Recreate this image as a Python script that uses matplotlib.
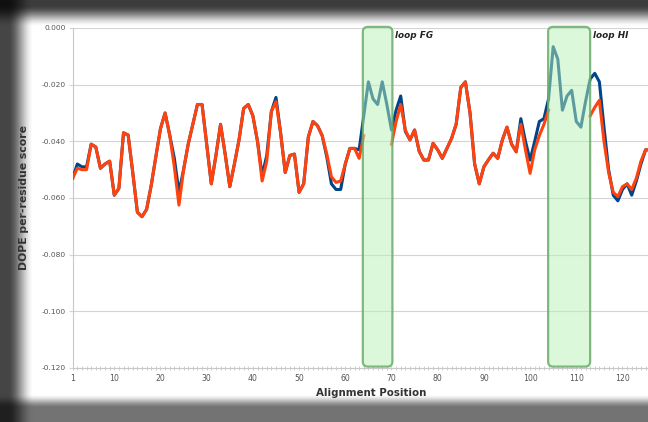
import numpy as np
import matplotlib
matplotlib.use("Agg")
import matplotlib.pyplot as plt
from matplotlib.patches import FancyBboxPatch
from matplotlib.ticker import MultipleLocator, FixedLocator

# alignment positions 1..126 and per-residue DOPE scores for both models
positions = np.arange(1, 127)

nan = np.nan
model_a = [  # drawn in orange, gaps at the two loops
    -0.053, -0.0495, -0.050, -0.050, -0.041, -0.042, -0.0495, -0.048, -0.047, -0.059,
    -0.0566, -0.037, -0.0378, -0.051, -0.065, -0.0666, -0.064, -0.0555, -0.0454, -0.0355,
    -0.030, -0.0378, -0.049, -0.0625, -0.050, -0.041, -0.034, -0.027, -0.027, -0.041,
    -0.055, -0.045, -0.034, -0.0445, -0.056, -0.048, -0.0395, -0.0284, -0.027, -0.031,
    -0.040, -0.054, -0.047, -0.0295, -0.026, -0.037, -0.051, -0.045, -0.0445, -0.058,
    -0.055, -0.0385, -0.033, -0.0345, -0.038, -0.0445, -0.0525, -0.0545, -0.054, -0.048,
    -0.0425, -0.0425, -0.046, -0.038, nan, nan, nan, nan, nan, -0.041,
    -0.033, -0.027, -0.036, -0.0395, -0.036, -0.0435, -0.0466, -0.0466, -0.0407, -0.043,
    -0.046, -0.0425, -0.039, -0.034, -0.021, -0.019, -0.030, -0.048, -0.055, -0.049,
    -0.0465, -0.0442, -0.046, -0.0395, -0.035, -0.041, -0.0437, -0.034, -0.043, -0.0513,
    -0.043, -0.038, -0.034, -0.029, nan, nan, nan, nan, nan, nan,
    nan, nan, -0.031, -0.028, -0.0255, -0.040, -0.051, -0.058, -0.0595, -0.056,
    -0.055, -0.057, -0.053, -0.047, -0.043, -0.043,
]
model_b = [  # drawn in blue, full length
    -0.053, -0.048, -0.049, -0.049, -0.041, -0.042, -0.0495, -0.048, -0.047, -0.059,
    -0.0566, -0.037, -0.0378, -0.051, -0.065, -0.0666, -0.064, -0.0555, -0.0454, -0.0355,
    -0.030, -0.0378, -0.046, -0.058, -0.050, -0.041, -0.034, -0.027, -0.027, -0.041,
    -0.055, -0.045, -0.034, -0.0445, -0.056, -0.048, -0.0395, -0.0284, -0.027, -0.031,
    -0.040, -0.052, -0.045, -0.0295, -0.0245, -0.037, -0.051, -0.045, -0.0445, -0.058,
    -0.055, -0.0385, -0.033, -0.0345, -0.038, -0.0455, -0.055, -0.057, -0.057, -0.048,
    -0.0425, -0.0425, -0.043, -0.031, -0.019, -0.025, -0.027, -0.019, -0.027, -0.036,
    -0.029, -0.024, -0.0365, -0.0395, -0.036, -0.0435, -0.0466, -0.0466, -0.0407, -0.043,
    -0.046, -0.0425, -0.039, -0.034, -0.021, -0.019, -0.030, -0.048, -0.055, -0.049,
    -0.0465, -0.0442, -0.046, -0.0395, -0.035, -0.041, -0.0437, -0.032, -0.040, -0.0466,
    -0.040, -0.033, -0.032, -0.025, -0.0066, -0.011, -0.029, -0.024, -0.022, -0.033,
    -0.035, -0.026, -0.018, -0.016, -0.019, -0.035, -0.050, -0.059, -0.061, -0.057,
    -0.055, -0.059, -0.054, -0.048, -0.043, -0.043,
]

loop_names = ["loop FG", "loop HI"]
loop_starts = [63.8, 103.9]
loop_ends = [70.2, 113.0]

x_ticks = [1, 10, 20, 30, 40, 50, 60, 70, 80, 90, 100, 110, 120]
y_ticks = [0.0, -0.02, -0.04, -0.06, -0.08, -0.10, -0.12]

W, H = 648, 422
fig = plt.figure(figsize=(W / 100, H / 100), dpi=100)

# dark screen-capture frame around the white sheet
bg = fig.add_axes([0, 0, 1, 1])
yy, xx = np.mgrid[0:H, 0:W] + 0.5


def ramp(d, w):
    s = np.clip(d / w, 0, 1)
    return s * s * (3 - 2 * s)


shade = (0.27 + 0.73 * ramp(xx - 8, 26)) \
    * (0.24 + 0.76 * ramp(yy - 5, 22)) \
    * (0.45 + 0.55 * ramp(408 - yy, 14))
bg.imshow(shade, cmap="gray", vmin=0, vmax=1, extent=(0, W, H, 0), aspect="auto",
          interpolation="bilinear")
bg.set_xlim(0, W)
bg.set_ylim(H, 0)
bg.axis("off")

px_per_x = 4.62
x_left = 72.7
ax = fig.add_axes([x_left / W, 1 - 368 / H, (W - x_left) / W, 340 / H])
ax.patch.set_alpha(0)

ax.plot(positions, np.array(model_b, dtype=float), color="#004586", lw=2.2,
        solid_joinstyle="round", zorder=3)
ax.plot(positions, np.array(model_a, dtype=float), color="#ff420e", lw=2.2,
        solid_joinstyle="round", zorder=4)

xmax = 1 + (W - x_left) / px_per_x
ax.set_xlim(1, xmax)
ax.set_ylim(-0.12, 0.0)

# rounded loop boxes; aspect converts the x-unit rounding to y units
y_per_px = 0.12 / 340
aspect = y_per_px / (1 / px_per_x)
for name, x0, x1 in zip(loop_names, loop_starts, loop_ends):
    r = 5 / px_per_x
    box = FancyBboxPatch((x0 + r, -0.1195 + r * aspect), (x1 - x0) - 2 * r,
                         0.1199 - 2 * r * aspect,
                         boxstyle=f"round,pad={r},rounding_size={r}",
                         mutation_aspect=aspect,
                         facecolor=(0.72, 0.95, 0.72, 0.5),
                         edgecolor=(0.42, 0.68, 0.42, 0.85), lw=1.6,
                         zorder=5, clip_on=False)
    ax.add_patch(box)
    ax.text(x1 + 0.6, -0.0028, name, style="italic", fontweight="bold",
            fontsize=6.4, color="#222222", va="center", ha="left", zorder=6)

ax.yaxis.set_major_locator(FixedLocator(y_ticks))
ax.set_yticklabels([f"{v:.3f}" for v in y_ticks])
ax.xaxis.set_major_locator(FixedLocator(x_ticks))
ax.xaxis.set_minor_locator(MultipleLocator(1))
ax.grid(axis="y", color="#d4d4d4", lw=0.8, zorder=1)

for side in ["top", "right"]:
    ax.spines[side].set_visible(False)
for side in ["left", "bottom"]:
    ax.spines[side].set_color("#c8c8c8")
    ax.spines[side].set_linewidth(0.8)

ax.tick_params(axis="y", length=3, width=0.8, color="#d4d4d4", pad=2,
               labelsize=5.4, labelcolor="#555555")
ax.tick_params(axis="x", which="both", direction="inout", length=3, width=0.6,
               color="#c8c8c8", pad=3, labelsize=5.6, labelcolor="#555555")

ax.set_xlabel("Alignment Position", fontsize=7.4, fontweight="bold",
              color="#333333")
ax.xaxis.set_label_coords((371 - x_left) / (W - x_left), -20 / 340)
ax.set_ylabel("DOPE per-residue score", fontsize=7.8, fontweight="bold",
              color="#333333")
ax.yaxis.set_label_coords(-(x_left - 29) / (W - x_left), 0.5)

fig.savefig("out.png", dpi=100)
